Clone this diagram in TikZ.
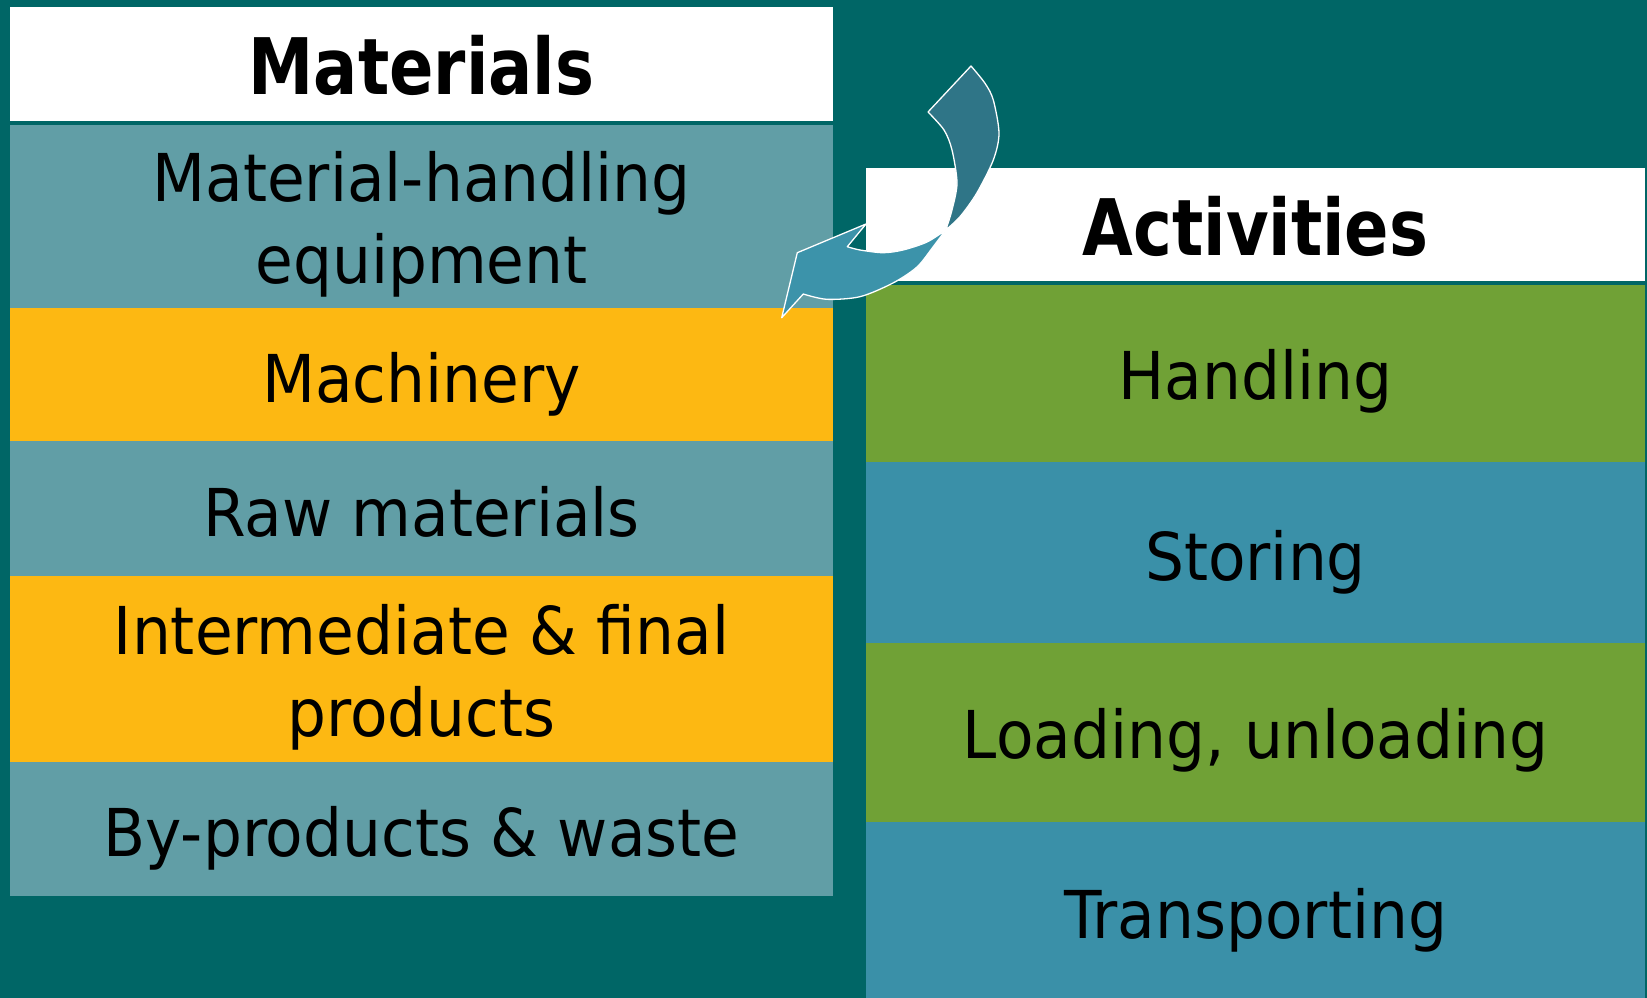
\documentclass[tikz,border=0pt]{standalone}
\usepackage{fontspec}
\setmainfont{DejaVu Sans}[FakeStretch=0.93]
\newfontfamily\headfont{DejaVu Sans}[FakeStretch=0.84]
\definecolor{bgteal}{RGB}{0,102,102}
\definecolor{paleteal}{RGB}{97,158,166}
\definecolor{amber}{RGB}{253,184,18}
\definecolor{leaf}{RGB}{112,161,54}
\definecolor{sea}{RGB}{58,144,168}
\definecolor{arrowback}{RGB}{47,117,135}
\definecolor{arrowfront}{RGB}{60,147,170}
\begin{document}
\begin{tikzpicture}[x=1pt,y=-1pt,
  cell/.style={rectangle,inner sep=0,outer sep=0,anchor=north west},
  lcell/.style={cell,minimum width=823},
  rcell/.style={cell,minimum width=779},
  head/.style={anchor=base,inner sep=0,font=\headfont\bfseries\fontsize{78}{90}\selectfont},
  body/.style={anchor=base,inner sep=0,align=center,font=\fontsize{66}{82}\selectfont},
  arrowpart/.style={draw=white,line width=1.3,line join=round}]
\fill[bgteal] (0,0) rectangle (1647,998);
\useasboundingbox (0,0) rectangle (1647,998);

% Materials column
\node[lcell,fill=white,minimum height=114] (mhead) at (10,7) {};
\node[lcell,fill=paleteal,minimum height=183] (m1) at (10,125) {};
\node[lcell,fill=amber,minimum height=133] (m2) at (10,308) {};
\node[lcell,fill=paleteal,minimum height=135] (m3) at (10,441) {};
\node[lcell,fill=amber,minimum height=186] (m4) at (10,576) {};
\node[lcell,fill=paleteal,minimum height=134] (m5) at (10,762) {};

% anchor=base of a two-line node sits on its last line
\node[head] (tmhead) at (421.5,95) {Materials};
\node[body] (tm1) at (421.5,283) {Material-handling\\equipment};
\node[body] (tm2) at (421.5,402) {Machinery};
\node[body] (tm3) at (421.5,536) {Raw materials};
\node[body] (tm4) at (421.5,736) {Intermediate \& final\\products};
\node[body] (tm5) at (421.5,856) {By-products \& waste};

% Activities column
\node[rcell,fill=white,minimum height=113] (ahead) at (866,168) {};
\node[rcell,fill=leaf,minimum height=177] (a1) at (866,285) {};
\node[rcell,fill=sea,minimum height=181] (a2) at (866,462) {};
\node[rcell,fill=leaf,minimum height=179] (a3) at (866,643) {};
\node[rcell,fill=sea,minimum height=176] (a4) at (866,822) {};

\node[head] (tahead) at (1255.5,255) {Activities};
\node[body] (ta1) at (1255.5,399) {Handling};
\node[body] (ta2) at (1255.5,580) {Storing};
\node[body] (ta3) at (1255.5,758) {Loading, unloading};
\node[body] (ta4) at (1255.5,938) {Transporting};

% curved arrow: back (darker) band
\path[arrowpart,fill=arrowback]
  (971,66) -- (928,112)
  -- plot[smooth] coordinates {(928,112) (944,130) (952,150) (957,183) (952,210) (945.7,230)}
  -- plot[smooth] coordinates {(945.7,230) (960,216.7) (976.7,193.3) (993.3,160) (999,133.3) (993.3,100) (985,83.3) (971,66)}
  -- cycle;
% curved arrow: front band with head
\path[arrowpart,fill=arrowfront]
  (945.7,230)
  -- plot[smooth] coordinates {(945.7,230) (927,242) (903,250) (883,252.7) (860,250) (847.3,246.7)}
  -- (866,224) -- (797.3,252.7) -- (781.7,317.7) -- (803.3,294)
  -- plot[smooth] coordinates {(803.3,294) (826.7,299.3) (860,296.7) (893,283) (917,267) (933,247) (945.7,230)}
  -- cycle;
\end{tikzpicture}
\end{document}
